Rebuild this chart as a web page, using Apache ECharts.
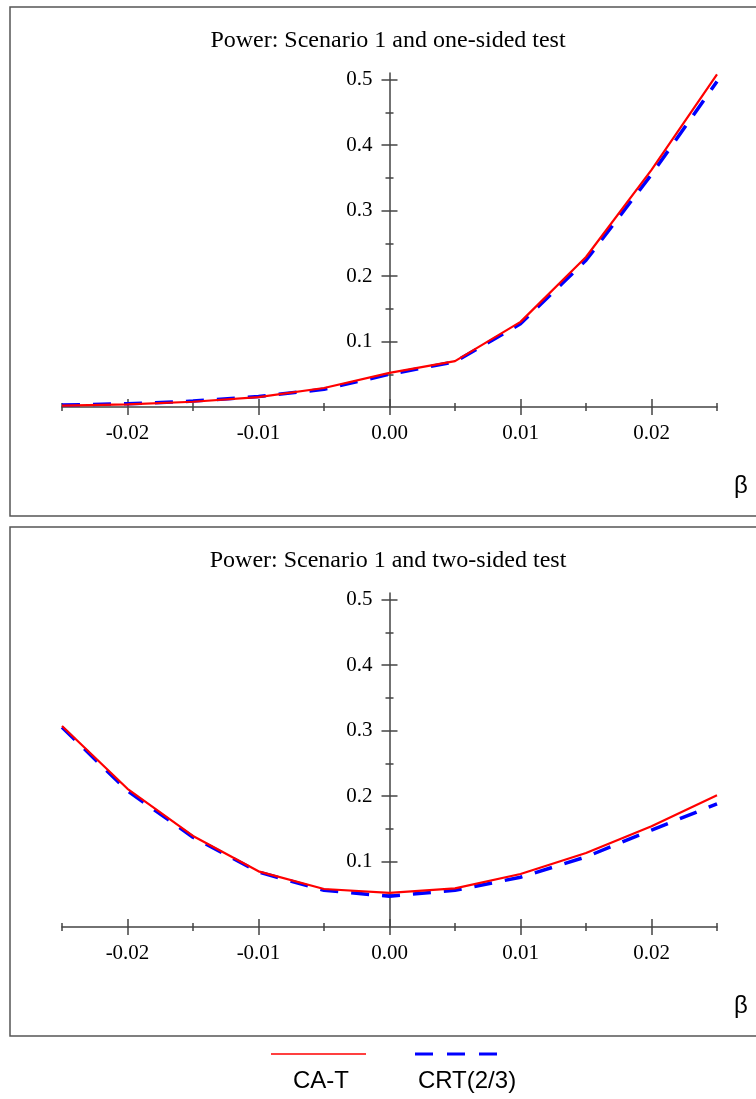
<!DOCTYPE html>
<html>
<head>
<meta charset="utf-8">
<script src="https://cdn.jsdelivr.net/npm/echarts@6/dist/echarts.min.js"></script>
<style>
html,body{margin:0;padding:0;background:#fff;}
#chart{width:756px;height:1099px;}
</style>
</head>
<body>
<div id="chart"></div>
<script>
// ---- data ----
var betas = [-0.025, -0.02, -0.015, -0.01, -0.005, 0, 0.005, 0.01, 0.015, 0.02, 0.025];
var oneSidedCAT = [0.002, 0.004, 0.008, 0.015, 0.029, 0.052, 0.070, 0.130, 0.229, 0.362, 0.508];
var oneSidedCRT = [0.003, 0.005, 0.009, 0.016, 0.027, 0.050, 0.069, 0.127, 0.224, 0.355, 0.497];
var twoSidedCAT = [0.307, 0.211, 0.139, 0.085, 0.058, 0.052, 0.059, 0.081, 0.113, 0.154, 0.201];
var twoSidedCRT = [0.305, 0.208, 0.137, 0.084, 0.056, 0.047, 0.056, 0.076, 0.107, 0.148, 0.188];
var seriesNames = ['CA-T', 'CRT(2/3)'];
var panelTitles = ['Power: Scenario 1 and one-sided test', 'Power: Scenario 1 and two-sided test'];
var xMajorTicks = [-0.02, -0.01, 0, 0.01, 0.02];
var xMinorTicks = [-0.025, -0.015, -0.005, 0.005, 0.015, 0.025];
var yMajorTicks = [0.1, 0.2, 0.3, 0.4, 0.5];
var yMinorTicks = [0.05, 0.15, 0.25, 0.35, 0.45];
var xAxisName = 'β';

// ---- layout ----
var SERIF = '"Liberation Serif", "Times New Roman", serif';
var SANS = '"Liberation Sans", Arial, sans-serif';
var AX = '#444';
var W = 756;
var X_MIN = -0.025, X_MAX = 0.025;
var grids = [
  {left: 62, right: 39, top: 73, height: 334},
  {left: 62, right: 39, top: 593, height: 334}
];
var panelData = [[oneSidedCAT, oneSidedCRT], [twoSidedCAT, twoSidedCRT]];

function pairs(ys) { return betas.map(function (b, i) { return [b, ys[i]]; }); }

var xAxes = [], yAxes = [], series = [], titles = [];
grids.forEach(function (g, gi) {
  var gw = W - g.left - g.right;
  var zeroFrac = (0 - X_MIN) / (X_MAX - X_MIN);
  var offLeft = -gw * zeroFrac;          // move left-positioned axes to beta = 0
  var offRight = -gw * (1 - zeroFrac);   // move right-positioned axes to beta = 0
  var xMain = xAxes.length, yMain = yAxes.length;
  var xBase = {gridIndex: gi, type: 'value', min: X_MIN, max: X_MAX, splitLine: {show: false},
    axisLine: {show: false, onZero: true, onZeroAxisIndex: yMain}, axisLabel: {show: false}};
  var yBase = {gridIndex: gi, type: 'value', min: 0, max: 0.51, splitLine: {show: false},
    axisLine: {show: false, onZero: false}, axisLabel: {show: false}};
  var tickStyle = {color: AX, width: 1.5};
  xAxes.push(Object.assign({}, xBase, {
    position: 'bottom',
    axisLine: {show: true, onZero: true, onZeroAxisIndex: yMain, lineStyle: {color: AX, width: 1.5}},
    axisTick: {show: true, length: 8, customValues: xMajorTicks, lineStyle: tickStyle},
    axisLabel: {show: true, customValues: xMajorTicks, margin: 16, color: '#000', fontSize: 21, fontFamily: SERIF,
      formatter: function (v) { return v.toFixed(2); }}
  }));
  xAxes.push(Object.assign({}, xBase, {position: 'top',
    axisTick: {show: true, length: 8, customValues: xMajorTicks, lineStyle: tickStyle}}));
  xAxes.push(Object.assign({}, xBase, {position: 'bottom',
    axisTick: {show: true, length: 4, customValues: xMinorTicks, lineStyle: tickStyle}}));
  xAxes.push(Object.assign({}, xBase, {position: 'top',
    axisTick: {show: true, length: 4, customValues: xMinorTicks, lineStyle: tickStyle}}));

  yAxes.push(Object.assign({}, yBase, {
    position: 'left', offset: offLeft,
    axisLine: {show: true, onZero: false, lineStyle: {color: AX, width: 1.5}},
    axisTick: {show: true, length: 8, customValues: yMajorTicks, lineStyle: tickStyle},
    axisLabel: {show: true, customValues: yMajorTicks, margin: 17, color: '#000', fontSize: 21, fontFamily: SERIF,
      formatter: function (v) { return v.toFixed(1); }}
  }));
  yAxes.push(Object.assign({}, yBase, {position: 'right', offset: offRight,
    axisTick: {show: true, length: 8, customValues: yMajorTicks, lineStyle: tickStyle}}));
  yAxes.push(Object.assign({}, yBase, {position: 'left', offset: offLeft,
    axisTick: {show: true, length: 4, customValues: yMinorTicks, lineStyle: tickStyle}}));
  yAxes.push(Object.assign({}, yBase, {position: 'right', offset: offRight,
    axisTick: {show: true, length: 4, customValues: yMinorTicks, lineStyle: tickStyle}}));

  series.push({name: seriesNames[1], type: 'line', xAxisIndex: xMain, yAxisIndex: yMain,
    data: pairs(panelData[gi][1]), symbol: 'none', clip: false,
    lineStyle: {color: '#0000ff', width: 3.5, type: [18, 13]}, z: 3});
  series.push({name: seriesNames[0], type: 'line', xAxisIndex: xMain, yAxisIndex: yMain,
    data: pairs(panelData[gi][0]), symbol: 'none', clip: false,
    lineStyle: {color: '#ff0000', width: 2.2}, z: 4});

  titles.push({text: panelTitles[gi], left: 383, top: gi === 0 ? 24 : 544, textAlign: 'center',
    textStyle: {fontFamily: SERIF, fontSize: 24, fontWeight: 'normal', color: '#000'}});
});

var graphics = [
  {type: 'rect', shape: {x: 10, y: 7, width: 760, height: 509}, style: {fill: 'none', stroke: '#555', lineWidth: 1.5}, silent: true},
  {type: 'rect', shape: {x: 10, y: 527, width: 760, height: 509}, style: {fill: 'none', stroke: '#555', lineWidth: 1.5}, silent: true},
  {type: 'text', x: 741, y: 486, style: {text: xAxisName, font: '24px ' + SANS, fill: '#000', align: 'center', verticalAlign: 'middle'}},
  {type: 'text', x: 741, y: 1006, style: {text: xAxisName, font: '24px ' + SANS, fill: '#000', align: 'center', verticalAlign: 'middle'}},
  // legend
  {type: 'line', shape: {x1: 271, y1: 1054, x2: 366, y2: 1054}, style: {stroke: '#ff0000', lineWidth: 1.5}},
  {type: 'text', x: 321, y: 1081, style: {text: seriesNames[0], font: '24px ' + SANS, fill: '#000', align: 'center', verticalAlign: 'middle'}},
  {type: 'line', shape: {x1: 415, y1: 1054, x2: 497, y2: 1054}, style: {stroke: '#0000ff', lineWidth: 3, lineDash: [18, 14]}},
  {type: 'text', x: 467, y: 1081, style: {text: seriesNames[1], font: '24px ' + SANS, fill: '#000', align: 'center', verticalAlign: 'middle'}}
];

var chart = echarts.init(document.getElementById('chart'), null, {renderer: 'canvas'});
chart.setOption({
  animation: false,
  backgroundColor: '#fff',
  title: titles,
  grid: grids,
  xAxis: xAxes,
  yAxis: yAxes,
  series: series,
  graphic: graphics
});
</script>
</body>
</html>
